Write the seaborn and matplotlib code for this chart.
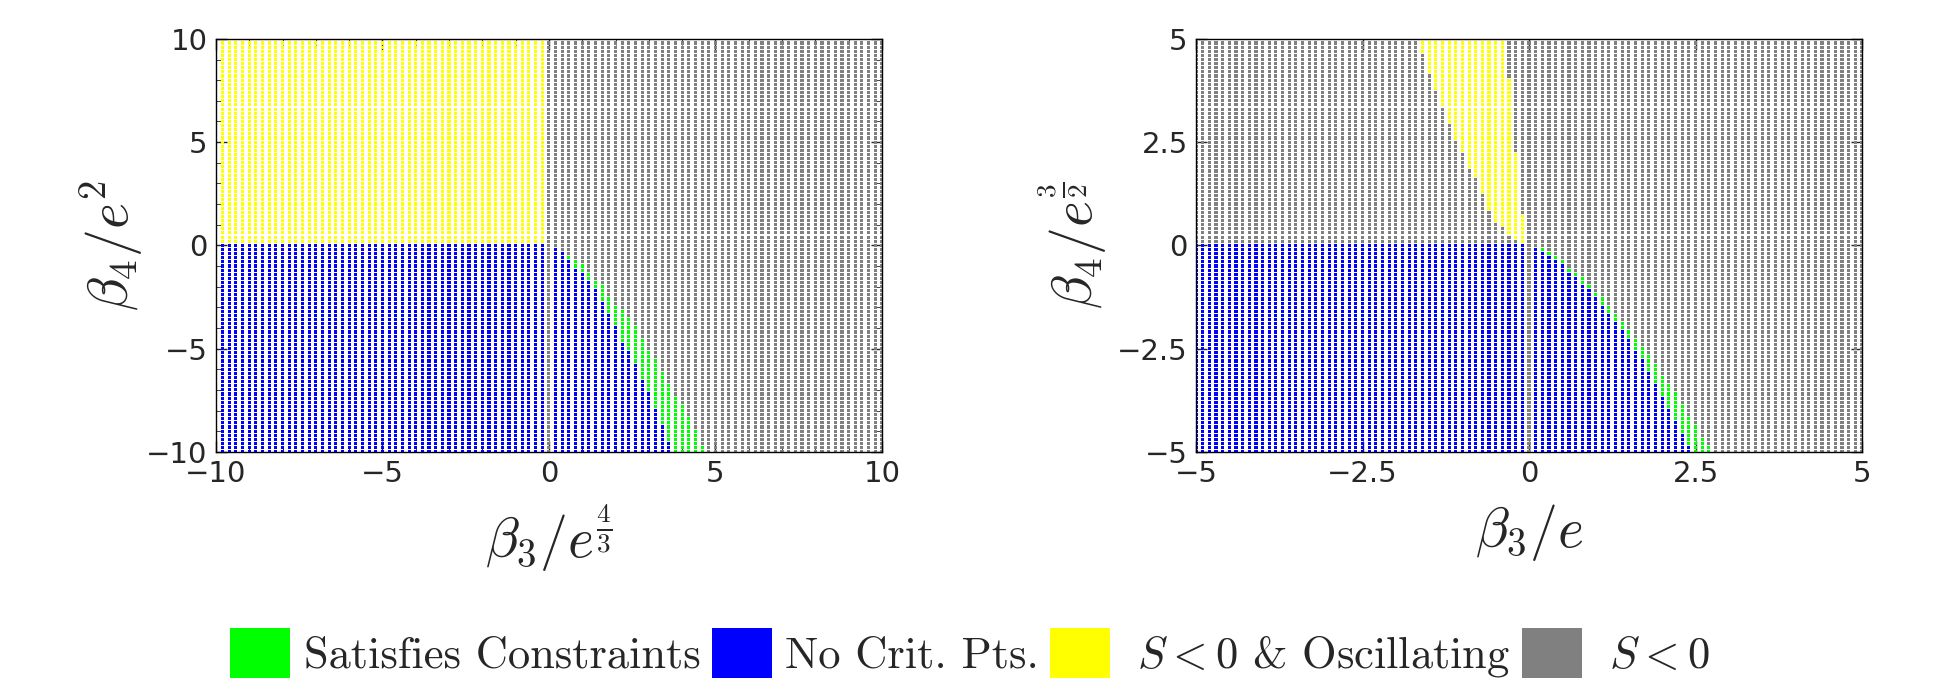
import numpy as np
import pandas as pd
import seaborn as sns
import matplotlib.pyplot as plt
from matplotlib.patches import Patch

# grid sampling of each panel
left_range = (-10, 10, 101)
right_range = (-5, 5, 101)

# left panel (x>0, y<0): first green y and first blue y per column
left_band_x = [0.2, 0.4, 0.6, 0.8, 1.0, 1.2, 1.4, 1.6, 1.8, 2.0, 2.2, 2.4,
               2.6, 2.8, 3.0, 3.2, 3.4, 3.6, 3.8, 4.0, 4.2, 4.4, 4.6]
left_green_top = [-0.2, -0.4, -0.6, -0.8, -1.0, -1.4, -1.8, -2.0, -2.6, -3.0, -3.2, -3.6,
                  -4.0, -4.6, -5.2, -5.6, -6.2, -6.8, -7.4, -7.8, -8.4, -9.0, -9.8]
left_blue_top = [-0.2, -0.4, -0.8, -1.2, -1.4, -1.8, -2.2, -2.8, -3.4, -4.0, -4.8, -5.2,
                 -5.8, -6.6, -7.2, -8.0, -8.8, -9.6, None, None, None, None, None]

# right panel band
right_band_x = [0.1, 0.2, 0.3, 0.4, 0.5, 0.6, 0.7, 0.8, 0.9, 1.0, 1.1, 1.2, 1.3, 1.4,
                1.5, 1.6, 1.7, 1.8, 1.9, 2.0, 2.1, 2.2, 2.3, 2.4, 2.5, 2.6, 2.7]
right_green_top = [-0.1, -0.1, -0.2, -0.3, -0.4, -0.6, -0.7, -0.8, -1.0, -1.2, -1.3, -1.5,
                   -1.7, -1.9, -2.1, -2.3, -2.5, -2.7, -2.9, -3.2, -3.4, -3.6, -3.9, -4.2,
                   -4.4, -4.7, -4.9]
right_blue_top = [-0.1, -0.2, -0.3, -0.4, -0.5, -0.7, -0.8, -1.0, -1.1, -1.3, -1.5, -1.7,
                  -1.9, -2.1, -2.3, -2.6, -2.8, -3.1, -3.4, -3.7, -4.0, -4.3, -4.6, -4.9,
                  None, None, None]

# right panel yellow wedge (x<0, y>0)
right_yellow_x = [-1.6, -1.5, -1.4, -1.3, -1.2, -1.1, -1.0, -0.9, -0.8, -0.7, -0.6,
                  -0.5, -0.4, -0.3, -0.2, -0.1]
right_yellow_lo = [4.7, 4.2, 3.8, 3.4, 3.0, 2.6, 2.3, 1.9, 1.7, 1.3, 0.9, 0.6, 0.5, 0.3, 0.2, 0.1]
right_yellow_hi = [5, 5, 5, 5, 5, 5, 5, 5, 5, 5, 5, 5, 5, 4.0, 2.2, 0.7]

labels = ["Satisfies Constraints", "No Crit. Pts.", r" $S<0$ & Oscillating", r" $S<0$"]
colors = ["#00ff00", "#0000ff", "#ffff00", "#808080"]


def lookup(xs, vals, x):
    for xi, v in zip(xs, vals):
        if abs(xi - x) < 1e-6:
            return True, v
    return False, None


def classify(x, y, band_x, g_top, b_top, yel=None):
    eps = 1e-6
    if x < -eps:
        if y <= eps:
            return labels[1]
        if yel is None:
            return labels[2]
        ok, lo = lookup(yel[0], yel[1], x)
        if ok:
            hi = lookup(yel[0], yel[2], x)[1]
            if lo - eps <= y <= hi + eps:
                return labels[2]
        return labels[3]
    if x <= eps or y >= -eps:
        return labels[3]
    ok, gt = lookup(band_x, g_top, x)
    if not ok:
        return labels[3]
    bt = lookup(band_x, b_top, x)[1]
    if bt is not None and y <= bt + eps:
        return labels[1]
    if y <= gt + eps:
        return labels[0]
    return labels[3]


def make_grid(rng, band_x, g_top, b_top, yel=None):
    v = np.round(np.linspace(*rng), 4)
    rows = []
    for x in v:
        for y in v:
            rows.append((x, y, classify(x, y, band_x, g_top, b_top, yel)))
    return pd.DataFrame(rows, columns=["x", "y", "kind"])


df_left = make_grid(left_range, left_band_x, left_green_top, left_blue_top)
df_right = make_grid(right_range, right_band_x, right_green_top, right_blue_top,
                     (right_yellow_x, right_yellow_lo, right_yellow_hi))

sns.set_style("ticks")
plt.rcParams["mathtext.fontset"] = "cm"
plt.rcParams["font.family"] = ["DejaVu Sans"]

fig = plt.figure(figsize=(19.4, 6.94), dpi=100)
ax1 = fig.add_axes([0.1113, 0.349, 0.3433, 0.595])
ax2 = fig.add_axes([0.6165, 0.349, 0.3433, 0.595])
pal = dict(zip(labels, colors))

for ax, df, lim in [(ax1, df_left, 10), (ax2, df_right, 5)]:
    sns.scatterplot(data=df, x="x", y="y", hue="kind", palette=pal, marker="s",
                    s=5, linewidth=0, legend=False, ax=ax)
    ax.set_xlim(-lim, lim)
    ax.set_ylim(-lim, lim)
    ax.tick_params(direction="in", top=True, right=True, labelsize=21,
                   length=8, width=1, pad=6)
    ax.tick_params(which="minor", direction="in", top=True, right=True, length=4)
    for sp in ax.spines.values():
        sp.set_linewidth(1)
        sp.set_color("black")

ax1.set_xticks([-10, -5, 0, 5, 10])
ax1.set_yticks([-10, -5, 0, 5, 10])
ax1.set_xticks(np.arange(-10, 11, 1), minor=True)
ax1.set_yticks(np.arange(-10, 11, 1), minor=True)
ax2.set_xticks([-5, -2.5, 0, 2.5, 5])
ax2.set_yticks([-5, -2.5, 0, 2.5, 5])
ax2.set_xticklabels(["\u22125", "\u22122.5", "0", "2.5", "5"])
ax2.set_yticklabels(["\u22125", "\u22122.5", "0", "2.5", "5"])

ax1.set_xlabel(r"$\beta_3/e^{\frac{4}{3}}$", fontsize=40, labelpad=10)
ax1.set_ylabel(r"$\beta_4/e^2$", fontsize=40, labelpad=0)
ax2.set_xlabel(r"$\beta_3/e$", fontsize=40, labelpad=10)
ax2.set_ylabel(r"$\beta_4/e^{\frac{3}{2}}$", fontsize=40, labelpad=6)

handles = [Patch(facecolor=c, edgecolor="none", label=l) for l, c in zip(labels, colors)]
fig.legend(handles=handles, loc="center", bbox_to_anchor=(0.5, 0.058), ncol=4,
           frameon=False, handlelength=1.35, handleheight=1.35, handletextpad=0.3,
           columnspacing=0.25, prop={"family": "cmr10", "size": 32})

fig.savefig("out.png", dpi=100)
